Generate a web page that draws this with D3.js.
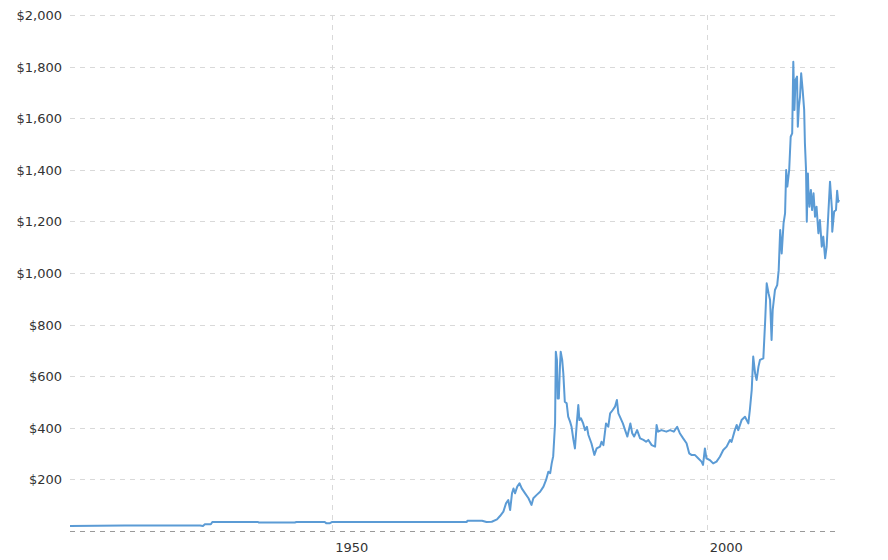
<!DOCTYPE HTML>
<html>
	<head>
		<title>Gold Price</title>
		<meta charset="utf-8" />
		<style>
			body { margin: 0; background: #fff; }
			text { font-family: "DejaVu Sans", Verdana, sans-serif; font-size: 13px; fill: #333; }
		</style>
	</head>
	<body>
		<svg id="chart" width="888" height="560"></svg>

	<script src="https://d3js.org/d3.v7.min.js"></script>
	<script>

		// Data (year, USD per ounce)
		const years = [
			1915.0, 1922.3, 1930.6, 1932.35, 1932.75, 1933.0, 1933.8, 1934.0, 1940.1, 1940.2,
			1945.0, 1945.2, 1949.0, 1949.2, 1949.7, 1950.0, 1967.95, 1968.05, 1970.0, 1970.6,
			1971.3, 1972.0, 1972.4, 1972.85, 1973.2, 1973.5, 1973.75, 1974.0, 1974.2, 1974.4,
			1974.7, 1975.0, 1975.3, 1975.75, 1976.2, 1976.6, 1976.85, 1977.3, 1977.75, 1978.2,
			1978.55, 1978.85, 1979.1, 1979.3, 1979.5, 1979.75, 1979.8, 1979.85, 1980.0, 1980.1,
			1980.25, 1980.4, 1980.5, 1980.7, 1980.85, 1981.05, 1981.3, 1981.5, 1981.75, 1981.95,
			1982.2, 1982.4, 1982.65, 1982.85, 1983.0, 1983.2, 1983.5, 1983.75, 1984.0, 1984.2,
			1984.6, 1985.0, 1985.3, 1985.75, 1985.95, 1986.2, 1986.55, 1986.85, 1987.1, 1987.45,
			1987.75, 1988.0, 1988.2, 1988.4, 1988.8, 1989.1, 1989.4, 1989.8, 1990.05, 1990.3,
			1990.7, 1991.1, 1991.55, 1991.9, 1992.2, 1992.65, 1993.1, 1993.3, 1993.5, 1993.95,
			1994.6, 1995.1, 1995.6, 1996.05, 1996.4, 1996.85, 1997.3, 1997.65, 1997.95, 1998.4,
			1998.85, 1999.3, 1999.5, 1999.75, 1999.95, 2000.4, 2000.85, 2001.3, 2001.75, 2002.2,
			2002.65, 2003.1, 2003.3, 2003.75, 2004.0, 2004.2, 2004.65, 2005.1, 2005.55, 2005.75,
			2006.0, 2006.2, 2006.45, 2006.65, 2006.9, 2007.1, 2007.55, 2007.8, 2008.0, 2008.25,
			2008.45, 2008.65, 2008.8, 2009.1, 2009.4, 2009.6, 2009.8, 2010.0, 2010.25, 2010.45,
			2010.6, 2010.75, 2011.0, 2011.2, 2011.4, 2011.55, 2011.7, 2011.85, 2012.05, 2012.15,
			2012.3, 2012.45, 2012.6, 2012.8, 2013.0, 2013.1, 2013.25, 2013.35, 2013.5, 2013.55,
			2013.7, 2013.9, 2014.05, 2014.25, 2014.45, 2014.65, 2014.9, 2015.1, 2015.35, 2015.55,
			2015.8, 2016.0, 2016.25, 2016.45, 2016.7, 2016.75, 2017.0, 2017.25, 2017.4, 2017.55,
			2017.65
		];
		const prices = [
			19.5, 21.5, 21.5, 21, 19.5, 26, 26, 35, 35, 32.5,
			32.5, 35, 35, 30.5, 30.5, 35, 35, 40, 40, 35,
			36, 45, 58, 75, 107, 120, 81, 146, 165, 146,
			172, 185, 165, 146, 127, 101, 127, 140, 152, 172,
			198, 230, 224, 262, 290, 417, 559, 695, 663, 514,
			514, 637, 695, 663, 611, 501, 495, 443, 424, 404,
			353, 320, 417, 488, 430, 437, 417, 391, 404, 372,
			340, 295, 320, 327, 346, 333, 417, 404, 456, 469,
			482, 508, 456, 443, 417, 391, 366, 417, 379, 366,
			391, 359, 353, 346, 353, 333, 327, 411, 385, 391,
			385, 391, 385, 404, 379, 359, 340, 301, 295, 295,
			282, 269, 256, 320, 282, 275, 262, 269, 288, 314,
			327, 353, 345, 391, 411, 391, 430, 443, 417, 469,
			547, 676, 611, 585, 637, 663, 669, 818, 960, 921,
			895, 740, 857, 934, 953, 1011, 1167, 1076, 1193, 1231,
			1399, 1335, 1399, 1528, 1541, 1819, 1632, 1748, 1761, 1567,
			1645, 1684, 1774, 1709, 1632, 1503, 1399, 1199, 1386, 1330,
			1257, 1322, 1244, 1309, 1218, 1257, 1154, 1205, 1102, 1141,
			1057, 1102, 1244, 1354, 1250, 1160, 1238, 1244, 1319, 1276,
			1283
		];

		const yTicks = [200, 400, 600, 800, 1000, 1200, 1400, 1600, 1800, 2000];
		const xTicks = [1950, 2000];

		const svg = d3.select("#chart");
		const plotLeft = 70, plotRight = 835, plotTop = 15, plotBottom = 531;

		const x = d3.scaleLinear().domain([1915, 2017.65]).range([70, 839]);
		const y = d3.scaleLinear().domain([0, 2000]).range([plotBottom, plotTop]);

		// horizontal grid + labels
		const yAxis = svg.append("g");
		yAxis.selectAll("line")
			.data(yTicks)
			.join("line")
			.attr("x1", plotLeft).attr("x2", plotRight)
			.attr("y1", d => Math.round(y(d)) + 0.5).attr("y2", d => Math.round(y(d)) + 0.5)
			.attr("stroke", "#d9d9d9")
			.attr("stroke-dasharray", "5,5");
		yAxis.selectAll("text")
			.data(yTicks)
			.join("text")
			.attr("x", plotLeft - 8)
			.attr("y", d => y(d) + 5)
			.attr("text-anchor", "end")
			.text(d => d3.format("$,")(d));

		// vertical grid + labels
		const xAxis = svg.append("g");
		xAxis.selectAll("line")
			.data(xTicks)
			.join("line")
			.attr("x1", d => Math.round(x(d)) + 0.5).attr("x2", d => Math.round(x(d)) + 0.5)
			.attr("y1", plotTop).attr("y2", plotBottom)
			.attr("stroke", "#d9d9d9")
			.attr("stroke-dasharray", "5,5");
		xAxis.selectAll("text")
			.data(xTicks)
			.join("text")
			.attr("x", d => x(d) + 3)
			.attr("y", plotBottom + 21)
			.text(d => d);

		// baseline
		svg.append("line")
			.attr("x1", plotLeft).attr("x2", plotRight)
			.attr("y1", plotBottom + 0.5).attr("y2", plotBottom + 0.5)
			.attr("stroke", "#999")
			.attr("stroke-dasharray", "5,5");

		// price line
		const line = d3.line()
			.x((d, i) => x(years[i]))
			.y(d => y(d));

		svg.append("path")
			.datum(prices)
			.attr("fill", "none")
			.attr("stroke", "#5b9bd5")
			.attr("stroke-width", 2)
			.attr("stroke-linejoin", "round")
			.attr("d", line);
	</script>
	</body>
</html>
